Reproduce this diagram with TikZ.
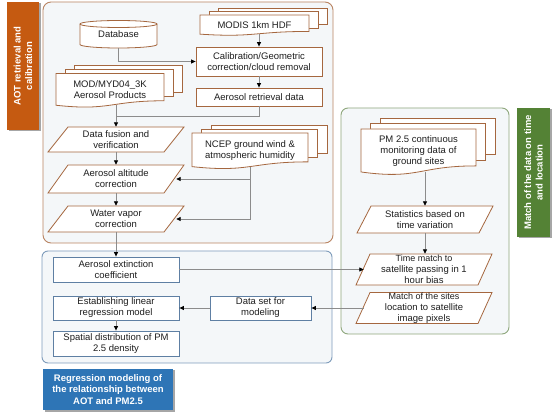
\documentclass[tikz,border=0pt]{standalone}
\usepackage{fontspec}
\setmainfont{Liberation Sans}
\usetikzlibrary{arrows.meta,calc,shadows}
\definecolor{nodeb}{HTML}{A5673F}
\definecolor{orgrp}{HTML}{B98462}
\definecolor{blgrp}{HTML}{7E9CBB}
\definecolor{blnode}{HTML}{5E7FA3}
\definecolor{grgrp}{HTML}{8EA77C}
\definecolor{grpfill}{HTML}{F4F7F9}
\definecolor{orlab}{HTML}{C55A11}
\definecolor{grlab}{HTML}{548235}
\definecolor{bllab}{HTML}{2E75B6}
\definecolor{conn}{HTML}{8C8C8C}
\tikzset{
  txt/.style={align=center, inner sep=0pt, font=\fontsize{9.5}{11}\selectfont, text=black!88},
  smalltxt/.style={txt, font=\fontsize{9}{10.5}\selectfont},
  docshape/.style={draw=nodeb, fill=white, line width=0.8pt},
  parashape/.style={draw=nodeb, fill=white, line width=0.8pt},
  box/.style={txt, draw=nodeb, fill=white, line width=0.8pt},
  bbox/.style={txt, draw=blnode, fill=white, line width=0.8pt},
  group/.style={fill=grpfill, line width=0.9pt, rounded corners=8pt},
  labfill/.style={drop shadow={shadow xshift=1.5pt, shadow yshift=-1.5pt, opacity=0.35, fill=black}},
  labtxt/.style={align=center, inner sep=0pt, text=white, font=\bfseries\fontsize{9.5}{11.5}\selectfont},
  line/.style={draw=conn, line width=0.8pt},
  arr/.style={line, -{Triangle[length=4.5pt, width=4pt, color=black]}},
}
% name, x1, y1, x2, H, dx, dy, text
\newcommand\docstack[8]{%
  \foreach \k in {2,1}{%
    \filldraw[docshape] ({#2+\k*#6},{#3-\k*#7}) rectangle ({#4+\k*#6},{#3+0.802*#5-\k*#7});
  }
  \filldraw[docshape] (#2,#3) -- (#4,#3) -- (#4,{#3+0.802*#5}) .. controls ({(#2+#4)/2},{#3+0.802*#5}) and ({(#2+#4)/2},{#3+1.107*#5}) .. (#2,{#3+0.934*#5}) -- cycle;
  \node[txt, minimum width={#4-#2}, minimum height={0.9*#5}] (#1) at ({(#2+#4)/2},{#3+0.48*#5}) {#8};
}
% name, xl, yt, xr, yb, slant, text
\newcommand\para[7]{%
  \filldraw[parashape] ({#2+#6},#3) -- (#4,#3) -- ({#4-#6},#5) -- (#2,#5) -- cycle;
  \node[txt, minimum width={#4-#2}, minimum height={#5-#3}] (#1) at ({(#2+#4)/2},{(#3+#5)/2}) {#7};
}
\begin{document}
\begin{tikzpicture}[x=1pt, y=-1pt]
\useasboundingbox (0,0) rectangle (554,419);
\fill[white] (0,0) rectangle (554,419);

% groups
\filldraw[group, draw=orgrp] (43,2) rectangle (333,243);
\filldraw[group, draw=blgrp, rounded corners=6pt] (42,251) rectangle (332,363);
\filldraw[group, draw=grgrp, rounded corners=7pt] (341,108) rectangle (509,334);

% labels
\fill[orlab, labfill] (7,2) rectangle (39,130);
\node[labtxt, rotate=90] (labA) at (23,66) {AOT retrieval and\\calibration};
\fill[grlab, labfill] (517,108) rectangle (550,237);
\node[labtxt, rotate=90] (labB) at (533.5,172.5) {Match of the data on time\\and location};
\fill[bllab, labfill] (43,369) rectangle (173,410);
\node[labtxt] (labC) at (108,389.5) {Regression modeling of\\the relationship between\\AOT and PM2.5};

% database cylinder
\filldraw[docshape] (80,24) -- (80,44.5) arc[start angle=180, end angle=360, x radius=38.5pt, y radius=3.5pt] -- (157,24) arc[start angle=0, end angle=180, x radius=38.5pt, y radius=3.5pt] -- cycle;
\draw[docshape, fill=none] (80,24) arc[start angle=180, end angle=360, x radius=38.5pt, y radius=3.5pt];
\node[txt, minimum width=77, minimum height=27.5] (db) at (118.5,34.25) {\raisebox{-2pt}{Database}};

% orange group content
\docstack{modis}{200}{15}{309}{20.5}{9}{3.5}{MODIS 1km HDF}
\node[box, minimum width=126, minimum height=29] (calib) at (259,61.5) {Calibration/Geometric\\correction/cloud removal};
\node[box, minimum width=126, minimum height=18] (ret) at (259,97) {Aerosol retrieval data};
\docstack{mod}{56}{73.5}{164}{34}{9}{4}{MOD/MYD04\_3K\\Aerosol Products}
\para{fusion}{48}{127}{184}{152}{20}{Data fusion and\\verification}
\docstack{ncep}{192}{133}{308}{36}{9.5}{4}{NCEP ground wind \&\\atmospheric humidity}
\para{alt}{48}{165}{184}{193}{20}{Aerosol altitude\\correction}
\para{wv}{48}{206}{184}{232}{20}{Water vapor\\correction}

% green group content
\docstack{pm}{361}{129}{476}{46}{9.5}{5.5}{PM 2.5 continuous\\monitoring data of\\ground sites}
\para{stats}{357}{206}{493}{233}{14}{Statistics based on\\time variation}
\para{tm}{356}{254}{492}{285}{14}{\fontsize{9}{10.5}\selectfont Time match to\\satellite passing in 1\\hour bias}
\para{ms}{356}{292.5}{492}{323.5}{14}{\fontsize{9}{10.5}\selectfont Match of the sites\\location to satellite\\image pixels}

% blue group content
\node[bbox, minimum width=126, minimum height=25] (ext) at (116,269.5) {Aerosol extinction\\coefficient};
\node[bbox, minimum width=126, minimum height=24] (lin) at (116,308) {Establishing linear\\regression model};
\node[bbox, minimum width=126, minimum height=25] (sp) at (116,343.5) {Spatial distribution of PM\\2.5 density};
\node[bbox, minimum width=101, minimum height=24] (dsm) at (260.5,308) {Data set for\\modeling};

% connectors
\draw[arr] (db.south) |- (calib.west);
\draw[arr] (modis.south -| calib.north) -- (calib.north);
\draw[arr] (calib.south) -- (ret.north);
\draw[line] (ret.south) |- ($(fusion.north)+(0,-10)$);
\draw[arr] (mod.south -| fusion.north) -- (fusion.north);
\draw[arr] (fusion.south) -- (alt.north);
\draw[arr] (alt.south) -- (wv.north);
\draw[arr] (ncep.south) |- ($(alt.east)+(-8,0)$);
\draw[arr] (ncep.south) |- ($(wv.east)+(-8,0)$);
\draw[arr] (wv.south) -- (ext.north);
\draw[arr] (ext.east) -- ($(tm.west)+(8,0)$);
\draw[arr] ($(ms.west)+(8,0)$) -- (dsm.east);
\draw[arr] (dsm.west) -- (lin.east);
\draw[arr] (lin.south) -- (sp.north);
\draw[arr] (pm.south -| stats.north) -- (stats.north);
\draw[arr] (stats.south) -- (stats.south |- tm.north);
\end{tikzpicture}
\end{document}
